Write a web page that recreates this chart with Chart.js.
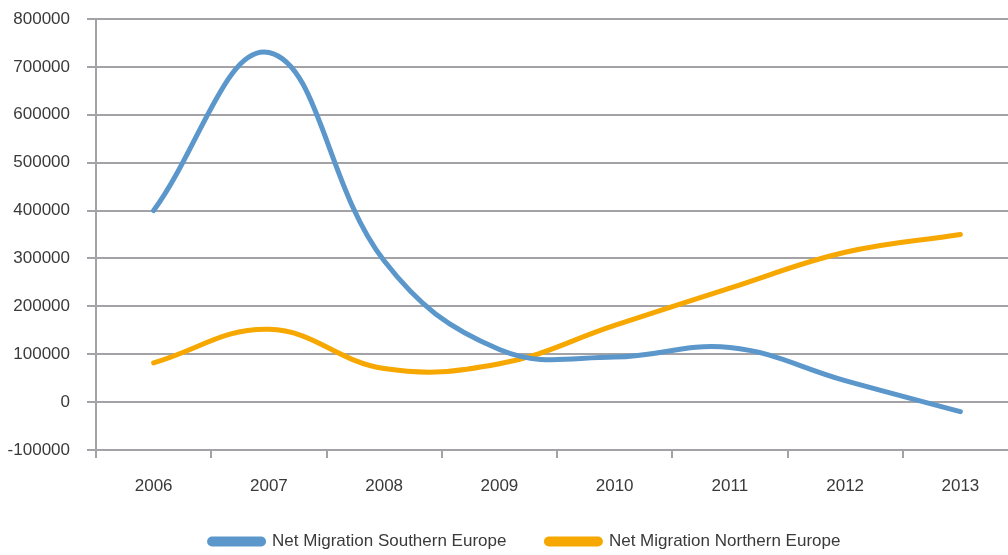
<!DOCTYPE html>
<html>
<head>
<meta charset="utf-8">
<script src="https://cdn.jsdelivr.net/npm/chart.js@4"></script>
<style>
  html, body { margin: 0; padding: 0; background: #fff; overflow: hidden; }
  #wrap { width: 1040px; height: 555px; position: relative; }
</style>
</head>
<body>
<div id="wrap"><canvas id="chart"></canvas></div>
<script>
// Net migration, Southern vs Northern Europe
const years = ['2006', '2007', '2008', '2009', '2010', '2011', '2012', '2013'];
const southern = [400000, 730000, 295000, 110000, 94000, 114000, 45000, -20000];
const northern = [82000, 152000, 70000, 80000, 160000, 238000, 313000, 350000];
const yTicks = [-100000, 0, 100000, 200000, 300000, 400000, 500000, 600000, 700000, 800000];

const FONT = "'Liberation Sans', Arial, sans-serif";
const TEXT = '#3a3a3a';
const GRID = '#a3a3a7';

Chart.defaults.font.family = FONT;
Chart.defaults.color = TEXT;

// legend sits a bit right of the canvas centre in the original
const legendShift = {
  id: 'legendShift',
  afterLayout(chart) {
    chart.legend.left += 16;
    chart.legend.right += 16;
  }
};

new Chart(document.getElementById('chart').getContext('2d'), {
  type: 'line',
  data: {
    labels: years,
    datasets: [
      {
        label: 'Net Migration Southern Europe',
        data: southern,
        borderColor: '#5b97cb', backgroundColor: '#5b97cb',
        borderWidth: 5, pointRadius: 0, tension: 0.4,
        borderCapStyle: 'round', borderJoinStyle: 'round',
      },
      {
        label: 'Net Migration Northern Europe',
        data: northern,
        borderColor: '#f6a800', backgroundColor: '#f6a800',
        borderWidth: 5, pointRadius: 0, tension: 0.4,
        borderCapStyle: 'round', borderJoinStyle: 'round',
      }
    ]
  },
  plugins: [legendShift],
  options: {
    responsive: true, maintainAspectRatio: false, animation: false,
    layout: { padding: { top: 19, right: 22, left: 0, bottom: -5 } },
    plugins: {
      tooltip: { enabled: false },
      legend: {
        position: 'bottom',
        labels: {
          font: { size: 17 }, color: TEXT,
          boxWidth: 54, boxHeight: 5, useBorderRadius: true, borderRadius: 2.5,
          padding: 40,
        }
      }
    },
    scales: {
      x: {
        offset: true,
        grid: { offset: true, drawOnChartArea: false, drawTicks: true, tickLength: 8, color: GRID, lineWidth: 2 },
        border: { display: true, color: GRID, width: 2 },
        ticks: { font: { size: 17 }, color: TEXT, padding: 18, maxRotation: 0 },
        afterFit: s => { s.height = 43; }
      },
      y: {
        min: -100000, max: 800000,
        afterBuildTicks: s => { s.ticks = yTicks.map(v => ({ value: v })); },
        grid: { color: GRID, lineWidth: 2, tickLength: 9 },
        border: { display: true, color: GRID, width: 2 },
        ticks: { font: { size: 17 }, color: TEXT, padding: 17, callback: v => String(v) },
        afterFit: s => { s.width = 96; s.paddingTop = 0; s.paddingBottom = 0; }
      }
    }
  }
});
</script>
</body>
</html>
